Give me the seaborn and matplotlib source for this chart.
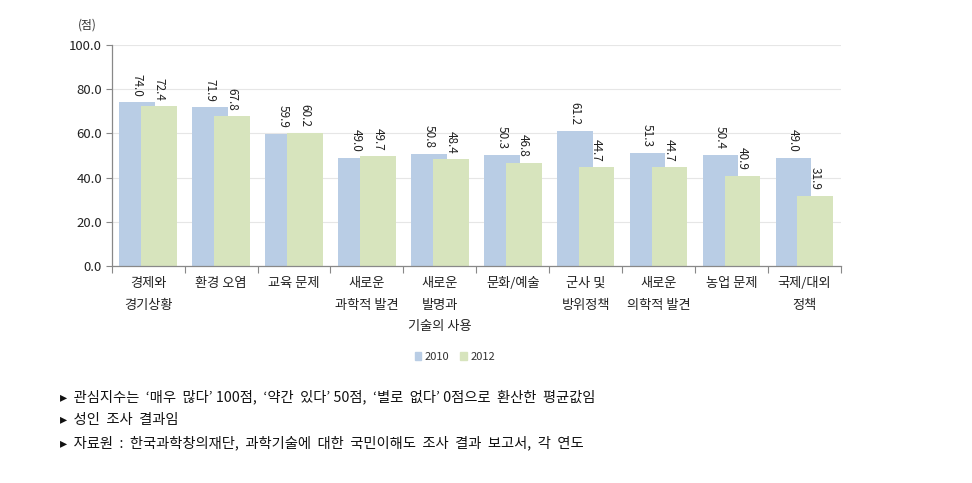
import numpy as np
import pandas as pd
import matplotlib
matplotlib.use("Agg")
import matplotlib.pyplot as plt
import matplotlib.ticker as mticker
import seaborn as sns

categories = ['경제와\n경기상황', '환경 오염', '교육 문제', '새로운\n과학적 발견',
              '새로운\n발명과\n기술의 사용', '문화/예술', '군사 및\n방위정책',
              '새로운\n의학적 발견', '농업 문제', '국제/대외\n정책']
values_2010 = [74.0, 71.9, 59.9, 49.0, 50.8, 50.3, 61.2, 51.3, 50.4, 49.0]
values_2012 = [72.4, 67.8, 60.2, 49.7, 48.4, 46.8, 44.7, 44.7, 40.9, 31.9]
years = ['2010', '2012']
notes = [
    "▸  관심지수는  ‘매우  많다’ 100점,  ‘약간  있다’ 50점,  ‘별로  없다’ 0점으로  환산한  평균값임",
    "▸  성인  조사  결과임",
    "▸  자료원  :  한국과학창의재단,  과학기술에  대한  국민이해도  조사  결과  보고서,  각  연도",
]

df = pd.DataFrame({
    'cat': categories * 2,
    'value': values_2010 + values_2012,
    'year': [years[0]] * len(categories) + [years[1]] * len(categories),
})

sns.set_style("white")
plt.rcParams['font.family'] = ['Noto Sans CJK KR', 'DejaVu Sans']

fig = plt.figure(figsize=(9.72, 4.83), dpi=100)
ax = fig.add_axes([0.115, 0.449, 0.75, 0.458])

colors = {'2010': '#B9CDE5', '2012': '#D7E4BD'}
sns.barplot(data=df, x='cat', y='value', hue='year', palette=colors,
            dodge=True, width=0.98, gap=0, ax=ax, legend=False,
            saturation=1, edgecolor='none', linewidth=0)

# overlap the two bars of each group like the original
shift = 0.095
for bar in ax.containers[0]:
    bar.set_x(bar.get_x() + shift)
for bar in ax.containers[1]:
    bar.set_x(bar.get_x() - shift)

for cont in ax.containers:
    ax.bar_label(cont, fmt='%.1f', rotation=-90, padding=4, fontsize=8.5,
                 color='#222222')

ax.set_ylim(0, 100)
ax.set_xlim(-0.5, len(categories) - 0.5)
ax.yaxis.set_major_locator(mticker.MultipleLocator(20))
ax.yaxis.set_major_formatter(mticker.FormatStrFormatter('%.1f'))
ax.grid(axis='y', color='#E6E6E6', linewidth=0.8)
ax.set_axisbelow(True)
ax.set_xlabel('')
ax.set_ylabel('')

for s in ['top', 'right']:
    ax.spines[s].set_visible(False)
for s in ['left', 'bottom']:
    ax.spines[s].set_color('#888888')
    ax.spines[s].set_linewidth(0.9)

ax.tick_params(axis='x', length=0, pad=8, labelsize=9.5, colors='#222222')
ax.tick_params(axis='y', length=4, width=0.8, color='#888888', pad=3,
               labelsize=9.5, labelcolor='#222222', left=True)
ax.set_xticks(np.arange(-0.5, len(categories), 1.0), minor=True)
ax.tick_params(axis='x', which='minor', length=5, width=0.8, color='#888888',
               bottom=True)
for lbl in ax.get_xticklabels():
    lbl.set_linespacing(1.85)

ax.text(-0.034, 1.06, '(점)', transform=ax.transAxes, ha='center', va='bottom',
        fontsize=8.5, color='#333333')

handles = [plt.Rectangle((0, 0), 1, 1, color=colors[y]) for y in years]
fig.legend(handles, years, loc='center', bbox_to_anchor=(0.468, 0.261),
           ncol=2, frameon=False, fontsize=8, handlelength=0.6,
           handleheight=0.6, handletextpad=0.3, columnspacing=1.0,
           labelcolor='#333333')

for i, note in enumerate(notes):
    fig.text(0.062, 1 - (397 + 23 * i) / 483, note, ha='left', va='center',
             fontsize=10.3, color='#111111')

fig.savefig('out.png', dpi=100)
